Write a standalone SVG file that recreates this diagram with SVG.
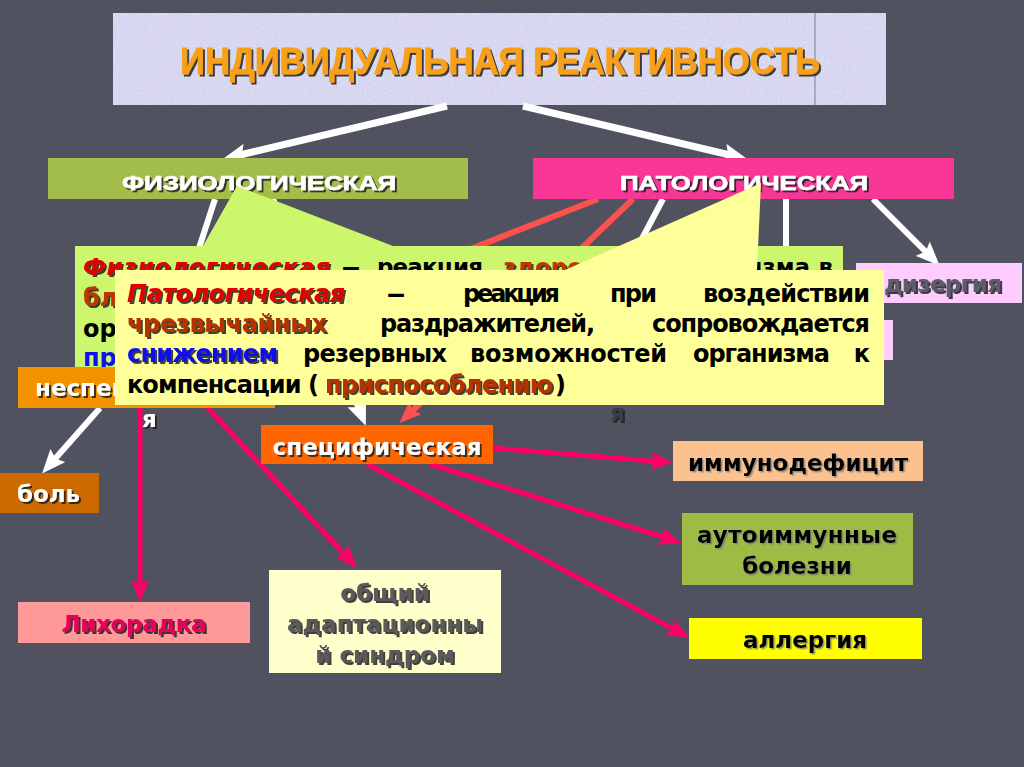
<svg xmlns="http://www.w3.org/2000/svg" width="1024" height="767" viewBox="0 0 1024 767">
<defs>
<style>
.b{font-family:"DejaVu Sans",Verdana,sans-serif;font-weight:bold;font-size:23px}
.y{font-size:24px}
.n{font-family:"Liberation Sans",Arial,sans-serif;font-weight:bold}
.w{fill:#ffffff}
.k{fill:#000000}
.sh{filter:url(#sh)}
.sl{filter:url(#sl)}
.cw{stroke:#ffffff;stroke-width:6;fill:none}
.cp{stroke:#ff0066;stroke-width:5;fill:none}
.cr{stroke:#ff5050;stroke-width:6;fill:none}
</style>
<filter id="sh" x="-10%" y="-30%" width="125%" height="170%"><feDropShadow dx="2" dy="2" stdDeviation="0.6" flood-color="#1a1a1a" flood-opacity="0.85"/></filter>
<filter id="sl" x="-10%" y="-30%" width="125%" height="170%"><feDropShadow dx="1.5" dy="1.5" stdDeviation="0.5" flood-color="#777777" flood-opacity="0.7"/></filter>
<filter id="noise" x="0" y="0" width="100%" height="100%"><feTurbulence type="fractalNoise" baseFrequency="0.7" numOctaves="3" seed="7"/><feColorMatrix type="matrix" values="1.2 0 0 0 0  0 0.9 0 0 0  0 0 1.3 0 0  0 0 0 0 1"/></filter>
<clipPath id="cn"><rect x="0" y="360" width="115" height="50"/></clipPath>
<marker id="mw" markerWidth="24" markerHeight="20" refX="6" refY="10" orient="auto" markerUnits="userSpaceOnUse"><path d="M0,0 L24,10 L0,20 L4,10 z" fill="#ffffff"/></marker>
<marker id="mp" markerWidth="22" markerHeight="18" refX="6" refY="9" orient="auto" markerUnits="userSpaceOnUse"><path d="M0,0 L22,9 L0,18 L4,9 z" fill="#ff0066"/></marker>
<marker id="mr" markerWidth="22" markerHeight="18" refX="6" refY="9" orient="auto" markerUnits="userSpaceOnUse"><path d="M0,0 L22,9 L0,18 L4,9 z" fill="#ff5050"/></marker>
</defs>
<rect x="0" y="0" width="1024" height="767" fill="#50535f"/>

<g id="title">
<rect x="113" y="13" width="773" height="92" fill="#dde3fa"/>
<rect x="113" y="13" width="773" height="92" filter="url(#noise)" opacity="0.22"/>
<line x1="815" y1="13" x2="815" y2="105" stroke="#7a7f95" stroke-width="1"/>
<text x="500" y="74" text-anchor="middle" class="n" font-size="37" textLength="640" lengthAdjust="spacingAndGlyphs" fill="#f7a01a" stroke="#f7a01a" stroke-width="0.8" style="filter:url(#sh)">ИНДИВИДУАЛЬНАЯ РЕАКТИВНОСТЬ</text>
</g>

<g id="connectors">
<line class="cw" x1="447" y1="106" x2="240" y2="155" marker-end="url(#mw)" style="stroke-width:7"/>
<line class="cw" x1="523" y1="106" x2="730" y2="155" marker-end="url(#mw)" style="stroke-width:7"/>
<line class="cw" x1="873" y1="199" x2="927" y2="253" marker-end="url(#mw)"/>
<line class="cw" x1="215" y1="199" x2="160" y2="368"/>
<line class="cw" x1="273" y1="199" x2="359" y2="409" marker-end="url(#mw)"/>
<line class="cw" x1="663" y1="199" x2="635" y2="252"/>
<line class="cw" x1="786" y1="199" x2="786" y2="320"/>
<line class="cw" x1="100" y1="408" x2="54" y2="460" marker-end="url(#mw)"/>
<line class="cr" x1="598" y1="199" x2="440" y2="261"/>
<line class="cr" x1="633" y1="199" x2="411" y2="412" marker-end="url(#mr)"/>
<line class="cp" x1="140" y1="405" x2="140" y2="586" marker-end="url(#mp)"/>
<line class="cp" x1="205" y1="405" x2="346" y2="556" marker-end="url(#mp)"/>
<line class="cp" x1="493" y1="448" x2="657" y2="461.5" marker-end="url(#mp)"/>
<line class="cp" x1="430" y1="464" x2="666" y2="538" marker-end="url(#mp)"/>
<line class="cp" x1="367" y1="464" x2="675" y2="630" marker-end="url(#mp)"/>
</g>

<g id="fiziol">
<rect x="48" y="158" width="420" height="41" fill="#a2bd4a"/>
<text x="259" y="190" text-anchor="middle" class="n w sh" font-size="21" stroke="#ffffff" stroke-width="0.6" textLength="274" lengthAdjust="spacingAndGlyphs">ФИЗИОЛОГИЧЕСКАЯ</text>
</g>
<g id="patol">
<rect x="533" y="158" width="421" height="41" fill="#f73696"/>
<text x="744" y="190" text-anchor="middle" class="n w sh" font-size="21" stroke="#ffffff" stroke-width="0.6" textLength="248" lengthAdjust="spacingAndGlyphs">ПАТОЛОГИЧЕСКАЯ</text>
</g>
<g id="dizergiya">
<rect x="856" y="263" width="166" height="40" fill="#ffccff"/>
<text x="884" y="292" class="b sh" fill="#5a5d6b" textLength="118">дизергия</text>
</g>
<g id="pink2">
<rect x="700" y="320" width="193" height="40" fill="#ffccff"/>
</g>
<g id="ya2">
<text x="610" y="421" class="b sh" font-size="17" fill="#3a3c46">я</text>
</g>
<g id="spec">
<rect x="261" y="425" width="232" height="39" fill="#ff6600"/>
<text x="377" y="455" text-anchor="middle" class="b w sh" textLength="209">специфическая</text>
</g>
<g id="bol">
<rect x="0" y="473" width="99" height="40" fill="#cc6a00"/>
<text x="17" y="502" class="b w sh" textLength="63">боль</text>
</g>
<g id="lihoradka">
<rect x="18" y="602" width="232" height="41" fill="#ff9999"/>
<text x="134" y="632" text-anchor="middle" class="b sh" fill="#e6005c" textLength="145">Лихорадка</text>
</g>
<g id="oas">
<rect x="269" y="570" width="232" height="103" fill="#ffffcc"/>
<text x="385" y="601" text-anchor="middle" class="b sh" fill="#5a5a5a">общий</text>
<text x="385" y="632" text-anchor="middle" class="b sh" fill="#5a5a5a" textLength="196">адаптационны</text>
<text x="385" y="663" text-anchor="middle" class="b sh" fill="#5a5a5a">й синдром</text>
</g>
<g id="immuno">
<rect x="673" y="441" width="250" height="40" fill="#fbc18f"/>
<text x="798" y="471" text-anchor="middle" class="b k sl" textLength="220">иммунодефицит</text>
</g>
<g id="autoimm">
<rect x="682" y="513" width="231" height="72" fill="#9dbb45"/>
<text x="797" y="543" text-anchor="middle" class="b k sl" textLength="200">аутоиммунные</text>
<text x="797" y="574" text-anchor="middle" class="b k sl">болезни</text>
</g>
<g id="allergy">
<rect x="689" y="618" width="233" height="41" fill="#ffff00"/>
<text x="805" y="648" text-anchor="middle" class="b k sl" textLength="124">аллергия</text>
</g>

<g id="callout-fiziol">
<path d="M75,246 H203 L237,186 L393,246 H843 V378 H75 Z" fill="#ccf66c"/>
<text x="83" y="275" class="b sh" font-style="italic" fill="#e00000" textLength="247">Физиологическая</text>
<text x="341" y="275" class="b k" textLength="20" lengthAdjust="spacingAndGlyphs">–</text>
<text x="377" y="275" class="b k" textLength="106">реакция</text>
<text x="503" y="275" class="b sh" fill="#c03500">здорового</text>
<text x="810" y="275" text-anchor="end" class="b k">организма</text>
<text x="833" y="275" text-anchor="end" class="b k">в</text>
<text x="83" y="306" class="b y sh" fill="#c03500">бл</text>
<text x="83" y="337" class="b y k">ор</text>
<text x="83" y="366" class="b y" fill="#1010ee">пр</text>
</g>

<g id="nespec">
<rect x="18" y="367" width="257" height="41" fill="#f39200"/>
<text x="35" y="396" class="b w sh" clip-path="url(#cn)">неспец</text>
<text x="142" y="427" class="b w sh">я</text>
</g>

<g id="callout-patol">
<path d="M115,270 H565 L761,183 L757,270 H884 V405 H115 Z" fill="#ffff99"/>
<text x="127" y="302" class="b y sh" font-style="italic" fill="#e00000" textLength="218">Патологическая</text>
<text x="386" y="302" class="b y k" textLength="20" lengthAdjust="spacingAndGlyphs">–</text>
<text x="463" y="302" class="b y k" textLength="97">реакция</text>
<text x="610" y="302" class="b y k" textLength="47">при</text>
<text x="703" y="302" class="b y k" textLength="167">воздействии</text>
<text x="127" y="332" class="b y sh" fill="#b83200" textLength="200">чрезвычайных</text>
<text x="380" y="332" class="b y k" textLength="215">раздражителей,</text>
<text x="652" y="332" class="b y k" textLength="218">сопровождается</text>
<text x="127" y="362" class="b y sh" fill="#1010ee" textLength="151">снижением</text>
<text x="303" y="362" class="b y k" textLength="144">резервных</text>
<text x="470" y="362" class="b y k" textLength="197">возможностей</text>
<text x="693" y="362" class="b y k" textLength="137">организма</text>
<text x="870" y="362" text-anchor="end" class="b y k">к</text>
<text x="127" y="393" class="b y k" textLength="192">компенсации (</text>
<text x="325" y="393" class="b y sh" fill="#b83200" textLength="228">приспособлению</text>
<text x="555" y="393" class="b y k">)</text>
</g>
</svg>
